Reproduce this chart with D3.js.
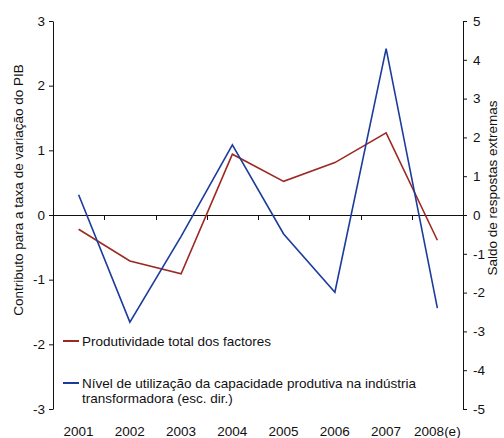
<!DOCTYPE html>
<html>
<head>
<meta charset="utf-8">
<script src="https://cdn.jsdelivr.net/npm/d3@7"></script>
<style>
  body { margin: 0; background: #fff; }
  svg { font-family: "Liberation Sans", Arial, sans-serif; }
</style>
</head>
<body>
<svg width="504" height="438"></svg>
<script>
// Data
var years = ['2001', '2002', '2003', '2004', '2005', '2006', '2007', '2008(e)'];
var produtividade = [-0.22, -0.71, -0.91, 0.94, 0.52, 0.81, 1.27, -0.39];   // left axis
var utilizacao = [0.52, -2.76, -0.55, 1.81, -0.49, -1.99, 4.29, -2.40];     // right axis
var leftTicks = [-3, -2, -1, 0, 1, 2, 3];
var rightTicks = [-5, -4, -3, -2, -1, 0, 1, 2, 3, 4, 5];

var red = '#9c2a22', blue = '#1c3c9c';
var svg = d3.select('svg');

var plotLeft = 53, plotRight = 463, plotTop = 21, plotBottom = 409;

var x = d3.scaleBand().domain(years).range([plotLeft, plotRight]);
var yL = d3.scaleLinear().domain([-3, 3]).range([plotBottom, plotTop]);
var yR = d3.scaleLinear().domain([-5, 5]).range([plotBottom, plotTop]);

// Left axis
var gL = svg.append('g')
    .attr('transform', 'translate(' + plotLeft + ',0)')
    .call(d3.axisLeft(yL).tickValues(leftTicks).tickSize(4).tickSizeOuter(0).tickPadding(4));

// Right axis
var gR = svg.append('g')
    .attr('transform', 'translate(' + plotRight + ',0)')
    .call(d3.axisRight(yR).tickValues(rightTicks).tickSize(4).tickSizeOuter(0).tickPadding(6));

[gL, gR].forEach(function(g) {
    g.selectAll('text').style('font-size', '13.5px').attr('fill', '#111')
        .text(function(d) { return d < 0 ? '-' + Math.abs(d) : d; });
    g.selectAll('line, path').attr('stroke', '#111');
});

// Zero line
svg.append('line')
    .attr('x1', plotLeft).attr('x2', plotRight)
    .attr('y1', Math.round(yL(0)) + 0.5).attr('y2', Math.round(yL(0)) + 0.5)
    .attr('stroke', '#111');

// Category boundary ticks on the zero line
svg.selectAll('.xtick')
    .data(years.slice(1))
  .enter().append('line')
    .attr('class', 'xtick')
    .attr('x1', function(d) { return Math.round(x(d)) + 0.5; })
    .attr('x2', function(d) { return Math.round(x(d)) + 0.5; })
    .attr('y1', yL(0)).attr('y2', yL(0) + 5)
    .attr('stroke', '#111');

// Year labels
svg.selectAll('.xlabel')
    .data(years)
  .enter().append('text')
    .attr('class', 'xlabel')
    .attr('x', function(d) { return x(d) + x.bandwidth() / 2; })
    .attr('y', 436)
    .attr('text-anchor', 'middle')
    .style('font-size', '13.5px')
    .attr('fill', '#111')
    .text(function(d) { return d; });

// Lines
var lineL = d3.line()
    .x(function(d, i) { return x(years[i]) + x.bandwidth() / 2; })
    .y(function(d) { return yL(d); });
var lineR = d3.line()
    .x(function(d, i) { return x(years[i]) + x.bandwidth() / 2; })
    .y(function(d) { return yR(d); });

svg.append('path')
    .datum(produtividade)
    .attr('d', lineL)
    .attr('fill', 'none')
    .attr('stroke', red)
    .attr('stroke-width', 1.6);

svg.append('path')
    .datum(utilizacao)
    .attr('d', lineR)
    .attr('fill', 'none')
    .attr('stroke', blue)
    .attr('stroke-width', 1.6);

// Axis titles
svg.append('text')
    .attr('transform', 'translate(23,190) rotate(-90)')
    .attr('text-anchor', 'middle')
    .style('font-size', '13.5px')
    .attr('fill', '#111')
    .text('Contributo para a taxa de variação do PIB');

svg.append('text')
    .attr('transform', 'translate(497,188) rotate(-90)')
    .attr('text-anchor', 'middle')
    .style('font-size', '13.5px')
    .attr('fill', '#111')
    .text('Saldo de respostas extremas');

// Legend
var legend = [
    { color: red, y: 341, lines: ['Produtividade total dos factores'] },
    { color: blue, y: 383, lines: ['Nível de utilização da capacidade produtiva na indústria', 'transformadora (esc. dir.)'] }
];
legend.forEach(function(item) {
    svg.append('line')
        .attr('x1', 63).attr('x2', 79)
        .attr('y1', item.y).attr('y2', item.y)
        .attr('stroke', item.color)
        .attr('stroke-width', 2);
    item.lines.forEach(function(t, i) {
        svg.append('text')
            .attr('x', 82)
            .attr('y', item.y + 5 + i * 15)
            .style('font-size', '13.5px')
            .attr('fill', '#111')
            .text(t);
    });
});
</script>
</body>
</html>
